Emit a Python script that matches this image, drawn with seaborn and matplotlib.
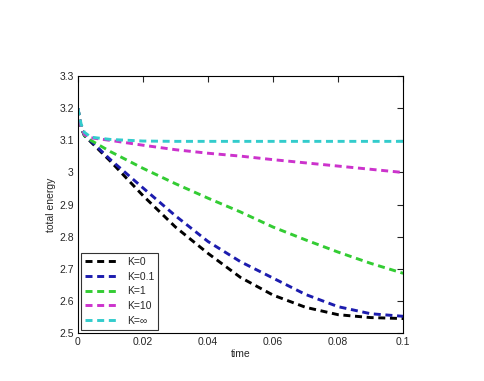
import matplotlib
matplotlib.use('Agg')
from matplotlib import pyplot as plt
import seaborn as sns
import pandas as pd

time = [0, 0.001, 0.002, 0.004, 0.01, 0.02, 0.03, 0.04, 0.05, 0.06, 0.07, 0.08, 0.09, 0.1]
k0 = [3.2, 3.14, 3.115, 3.095, 3.035, 2.928, 2.83, 2.748, 2.673, 2.618, 2.58, 2.557, 2.548, 2.545]
k01 = [3.2, 3.14, 3.115, 3.098, 3.04, 2.952, 2.865, 2.785, 2.722, 2.671, 2.62, 2.582, 2.56, 2.552]
k1 = [3.2, 3.14, 3.115, 3.1, 3.065, 3.013, 2.965, 2.92, 2.877, 2.83, 2.79, 2.752, 2.717, 2.686]
k10 = [3.2, 3.14, 3.118, 3.108, 3.1, 3.085, 3.071, 3.06, 3.051, 3.04, 3.03, 3.02, 3.01, 3.0]
kinf = [3.2, 3.15, 3.125, 3.11, 3.103, 3.098, 3.097, 3.097, 3.097, 3.097, 3.097, 3.097, 3.097, 3.097]
labels = ['K=0', 'K=0.1', 'K=1', 'K=10', 'K=\u221e']
colors = ['black', '#1c1cae', '#33cc33', '#cc33cc', '#33cccc']

sns.set_style('white')
plt.rcParams['font.family'] = ['Liberation Sans', 'DejaVu Sans']

fig = plt.figure(figsize=(4.84, 3.81), dpi=100)
ax = fig.add_axes([0.161, 0.126, 0.672, 0.674])
for vals, lab, col in zip([k0, k01, k1, k10, kinf], labels, colors):
    df = pd.DataFrame({'time': time, 'energy': vals})
    sns.lineplot(data=df, x='time', y='energy', ax=ax, color=col, label=lab,
                 linestyle=(0, (2.4, 1.6)), linewidth=2.1)

ax.set_xlim(0, 0.1)
ax.set_ylim(2.5, 3.3)
ax.set_xticks([0, 0.02, 0.04, 0.06, 0.08, 0.1])
ax.set_xticklabels(['0', '0.02', '0.04', '0.06', '0.08', '0.1'])
ax.set_yticks([2.5, 2.6, 2.7, 2.8, 2.9, 3.0, 3.1, 3.2, 3.3])
ax.set_yticklabels(['2.5', '2.6', '2.7', '2.8', '2.9', '3', '3.1', '3.2', '3.3'])
ax.tick_params(direction='in', top=True, right=True, length=4, width=0.8, labelsize=7.5, pad=3)
ax.set_xlabel('time', fontsize=7.5, labelpad=1)
ax.set_ylabel('total energy', fontsize=7.5, labelpad=2)
for spine in ax.spines.values():
    spine.set_color('black')
    spine.set_linewidth(0.8)
leg = ax.legend(loc='lower left', fontsize=7.5, frameon=True, fancybox=False,
                edgecolor='black', handlelength=3.2, borderpad=0.4, labelspacing=0.45,
                borderaxespad=0.3)
leg.get_frame().set_linewidth(0.8)
fig.savefig('out.png', dpi=100)
